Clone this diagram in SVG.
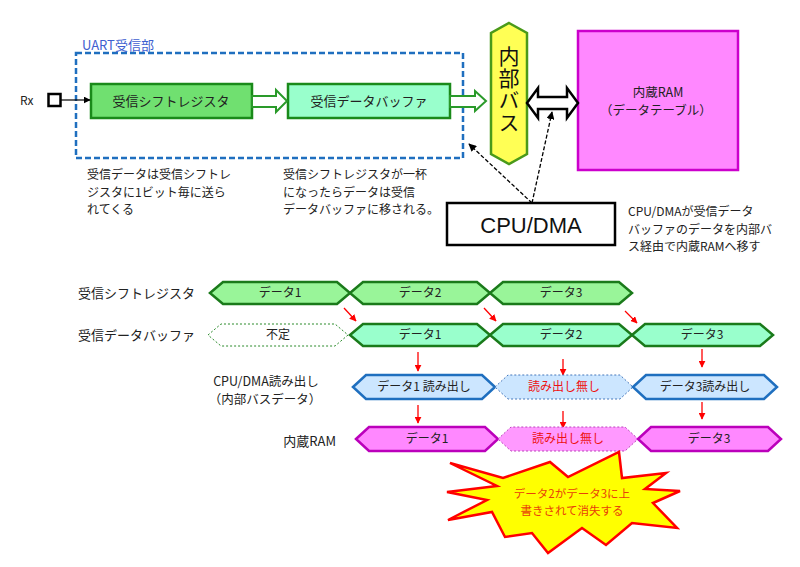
<svg xmlns="http://www.w3.org/2000/svg" width="800" height="567" viewBox="0 0 800 567">
<defs>
<marker id="ah" viewBox="0 0 10 10" refX="9" refY="5" markerWidth="7" markerHeight="7" orient="auto" markerUnits="userSpaceOnUse"><path d="M0,0 L10,5 L0,10 z" fill="#000"/></marker>
<marker id="ahr" viewBox="0 0 10 10" refX="9" refY="5" markerWidth="7" markerHeight="7" orient="auto" markerUnits="userSpaceOnUse"><path d="M0,0 L10,5 L0,10 z" fill="#ff0000"/></marker>
<marker id="ahd" viewBox="0 0 10 10" refX="9" refY="5" markerWidth="8" markerHeight="8" orient="auto" markerUnits="userSpaceOnUse"><path d="M0,0 L10,5 L0,10 z" fill="#000"/></marker>
</defs>
<style>
text{font-family:"Noto Sans CJK JP","Liberation Sans",sans-serif;fill:#222;}
.t13{font-size:13px;}
.t125{font-size:12.5px;}
.t12{font-size:12px;}
.mid{text-anchor:middle;}
.end{text-anchor:end;}
.g1{fill:#99f599;stroke:#1a7a1a;stroke-width:2.5;}
.g2{fill:#99ffcc;stroke:#1a7a1a;stroke-width:2.5;}
.gd{fill:#fff;stroke:#2a8a2a;stroke-width:1;stroke-dasharray:2,2;}
.b1{fill:#cce6ff;stroke:#1f6fbf;stroke-width:2.5;}
.bd{fill:#cce6ff;stroke:#4477bb;stroke-width:1;stroke-dasharray:2,2;}
.m1{fill:#ff88ff;stroke:#bb00bb;stroke-width:2.5;}
.md{fill:#ff99ff;stroke:#bb44bb;stroke-width:1;stroke-dasharray:2,2;}
.red{fill:#ee1111;}
.ra{stroke:#ff0000;stroke-width:1.3;fill:none;marker-end:url(#ahr);}
.blk{fill:#fff;stroke:#2a9a2a;stroke-width:2;}
</style>

<!-- UART block -->
<g id="uart">
<rect x="76" y="53" width="387" height="105" fill="none" stroke="#1f6fbf" stroke-width="2.5" stroke-dasharray="6,3"/>
<text x="82" y="50" class="t13" style="fill:#4060d0">UART受信部</text>
</g>
<g id="rx">
<text x="20" y="105" class="t12">Rx</text>
<rect x="48.5" y="94" width="12" height="12" fill="#fff" stroke="#000" stroke-width="2.5"/>
</g>
<g id="shiftreg">
<rect x="91" y="84" width="161" height="34" fill="#70e070" stroke="#1a8a1a" stroke-width="2.5"/>
<text x="171" y="106" class="t13 mid">受信シフトレジスタ</text>
</g>
<g id="rxbuf">
<rect x="288" y="84" width="162" height="34" fill="#99ffcc" stroke="#1a8a1a" stroke-width="2.5"/>
<text x="369" y="106" class="t13 mid">受信データバッファ</text>
</g>
<g id="bus">
<polygon points="509,23 527,33 527,154 509,164 491,154 491,33" fill="#ffff55" stroke="#4a9a1a" stroke-width="2.5"/>
<text x="509" y="46" writing-mode="vertical-rl" style="font-size:21px;letter-spacing:1px;fill:#111">内部バス</text>
</g>
<g id="ram">
<rect x="578" y="31" width="160" height="139" fill="#ff88ff" stroke="#cc00cc" stroke-width="2.5"/>
<text x="658" y="96.5" class="t125 mid">内蔵RAM</text>
<text x="656" y="114.8" class="t125 mid">（データテーブル）</text>
</g>
<g id="cpu">
<rect x="447" y="203" width="168" height="42" fill="#fff" stroke="#000" stroke-width="2.5"/>
<text x="531" y="233" class="mid" style="font-family:'Liberation Sans','Noto Sans CJK JP',sans-serif;font-size:22px;fill:#111">CPU/DMA</text>
</g>

<g id="notes">
<text class="t12"><tspan x="87" y="179">受信データは受信シフトレ</tspan><tspan x="87" y="196.6">ジスタに1ビット毎に送ら</tspan><tspan x="87" y="214.2">れてくる</tspan></text>
<text class="t12"><tspan x="283" y="179">受信シフトレジスタが一杯</tspan><tspan x="283" y="196.6">になったらデータは受信</tspan><tspan x="283" y="214.2">データバッファに移される。</tspan></text>
<text class="t12"><tspan x="628" y="216">CPU/DMAが受信データ</tspan><tspan x="628" y="233.6">バッファのデータを内部バ</tspan><tspan x="628" y="251.2">ス経由で内蔵RAMへ移す</tspan></text>
</g>

<g id="connectors">
<line x1="61" y1="100" x2="90" y2="100" stroke="#000" stroke-width="1.2" marker-end="url(#ah)"/>
<polygon class="blk" points="252,96 276,96 276,90 287,101 276,112 276,107 252,107"/>
<polygon class="blk" points="450,96 475,96 475,91 486,101 475,111 475,107 450,107"/>
<polygon points="527,103 538,88 538,97 567,97 567,88 578,103 567,118 567,109 538,109 538,118" fill="#fff" stroke="#000" stroke-width="2.5" stroke-linejoin="miter"/>
<line x1="532" y1="203" x2="469" y2="144" stroke="#000" stroke-width="1.3" stroke-dasharray="4,2" marker-end="url(#ahd)"/>
<line x1="532" y1="203" x2="552" y2="112" stroke="#000" stroke-width="1.3" stroke-dasharray="4,2" marker-end="url(#ahd)"/>
<!-- timing red arrows -->
<line class="ra" x1="344" y1="308" x2="356" y2="321"/>
<line class="ra" x1="484" y1="308" x2="496" y2="321"/>
<line class="ra" x1="625" y1="311" x2="637" y2="323"/>
<line class="ra" x1="418" y1="352" x2="418" y2="371"/>
<line class="ra" x1="563" y1="359" x2="563" y2="375"/>
<line class="ra" x1="702" y1="349" x2="702" y2="367"/>
<line class="ra" x1="418" y1="405" x2="418" y2="423"/>
<line class="ra" x1="563" y1="411" x2="563" y2="428"/>
<line class="ra" x1="702" y1="402" x2="702" y2="419"/>
</g>

<!-- timing chart -->
<g id="row-shiftreg">
<text x="195" y="298" class="t13 end">受信シフトレジスタ</text>
<polygon class="g1" points="210,293 223,282 337,282 350,293 337,304 223,304"/>
<polygon class="g1" points="350,293 363,282 477,282 490,293 477,304 363,304"/>
<polygon class="g1" points="490,293 503,282 619,282 632,293 619,304 503,304"/>
<text x="280" y="297" class="t12 mid">データ1</text>
<text x="420" y="297" class="t12 mid">データ2</text>
<text x="561" y="297" class="t12 mid">データ3</text>
</g>
<g id="row-rxbuf">
<text x="195" y="340" class="t13 end">受信データバッファ</text>
<polygon class="gd" points="208,335 221,324 335,324 348,335 335,346 221,346"/>
<polygon class="g2" points="350,335 363,324 477,324 490,335 477,346 363,346"/>
<polygon class="g2" points="490,335 503,324 619,324 632,335 619,346 503,346"/>
<polygon class="g2" points="632,335 645,324 760,324 773,335 760,346 645,346"/>
<text x="278" y="339" class="t12 mid">不定</text>
<text x="420" y="339" class="t12 mid">データ1</text>
<text x="561" y="339" class="t12 mid">データ2</text>
<text x="702" y="339" class="t12 mid">データ3</text>
</g>
<g id="row-cpu">
<text x="266" y="386" class="t125 mid">CPU/DMA読み出し</text>
<text x="265" y="404.3" class="t125 mid">（内部バスデータ）</text>
<polygon class="b1" points="353,387 366,375 482,375 495,387 482,399 366,399"/>
<polygon class="bd" points="495,387 508,375 620,375 633,387 620,399 508,399"/>
<polygon class="b1" points="633,387 646,375 764,375 777,387 764,399 646,399"/>
<text x="424" y="391" class="t12 mid">データ1 読み出し</text>
<text x="564" y="391" class="t12 mid red">読み出し無し</text>
<text x="705" y="391" class="t12 mid">データ3読み出し</text>
</g>
<g id="row-ram">
<text x="336" y="446" class="t13 end">内蔵RAM</text>
<polygon class="m1" points="356,439 369,427 485,427 498,439 485,451 369,451"/>
<polygon class="md" points="498,439 511,427 625,427 638,439 625,451 511,451"/>
<polygon class="m1" points="638,439 651,427 768,427 781,439 768,451 651,451"/>
<text x="427" y="443" class="t12 mid">データ1</text>
<text x="568" y="443" class="t12 mid red">読み出し無し</text>
<text x="709" y="443" class="t12 mid">データ3</text>
</g>

<g id="burst">
<polygon points="450,463 503,478 550,462 568,477 619,452 622,478 666,473 645,489 680,491 653,503 677,528 632,523 606,545 582,528 548,553 532,533 505,537 492,512 448,520 487,500 447,492 497,486" fill="#ffff00" stroke="#ff0000" stroke-width="2.5" stroke-linejoin="miter"/>
<text style="font-size:11.5px;fill:#e8400a" class="mid"><tspan x="572" y="498">データ2がデータ3に上</tspan><tspan x="572" y="514.8">書きされて消失する</tspan></text>
</g>
</svg>
